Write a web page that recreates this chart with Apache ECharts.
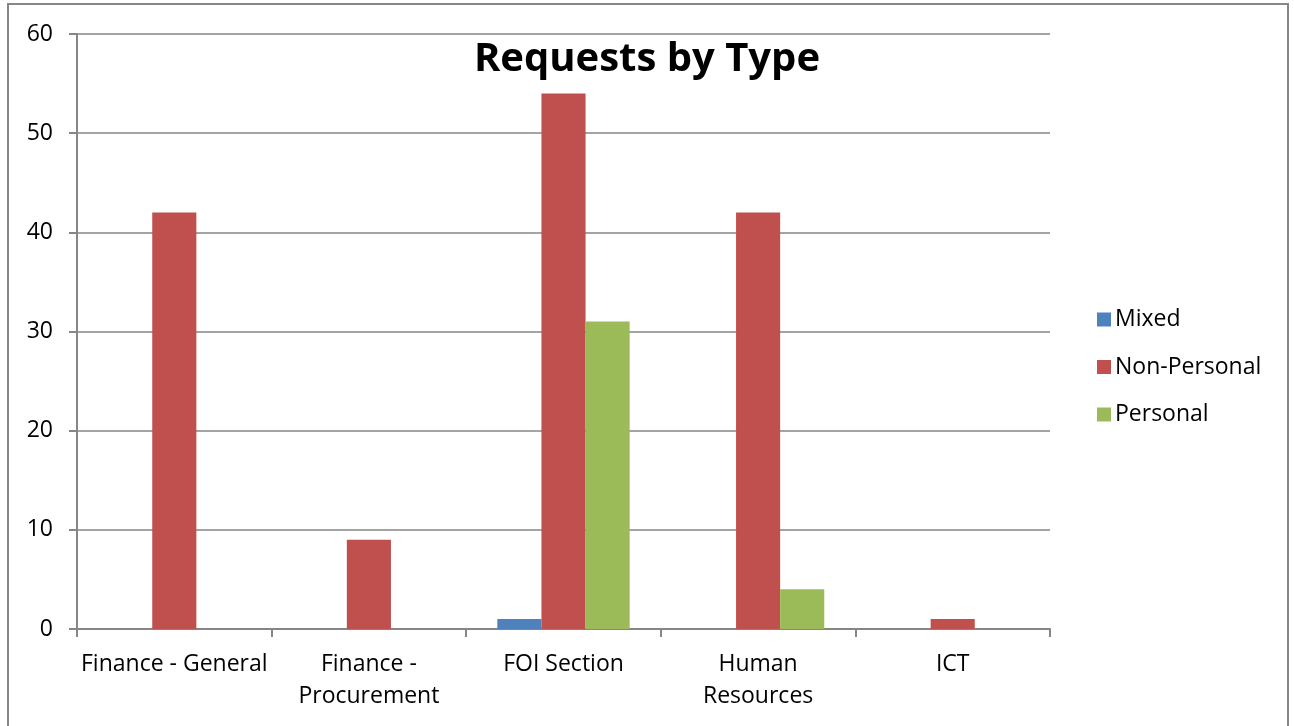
<!DOCTYPE html>
<html><head><meta charset="utf-8">
<script src="https://cdn.jsdelivr.net/npm/echarts@6/dist/echarts.min.js"></script>
<style>html,body{margin:0;padding:0;background:#fff}#c{width:1294px;height:726px}</style>
</head><body><div id="c"></div>
<script>
const categories = ['Finance - General', 'Finance -\nProcurement', 'FOI Section', 'Human\nResources', 'ICT'];
const mixed = [0, 0, 1, 0, 0];
const nonPersonal = [42, 9, 54, 42, 1];
const personal = [0, 0, 31, 4, 0];
const seriesNames = ['Mixed', 'Non-Personal', 'Personal'];
const colors = ['#4F81BD', '#C0504D', '#9BBB59'];
const font = '"Open Sans", "Noto Sans", sans-serif';

const chart = echarts.init(document.getElementById('c'));
chart.setOption({
  animation: false,
  textStyle: { fontFamily: font },
  title: { text: 'Requests by Type', left: 642, top: 35, textAlign: 'center',
    textStyle: { fontSize: 40, fontWeight: 'bold', color: '#000', fontFamily: font } },
  graphic: [{ type: 'rect', shape: { x: 8, y: 4, width: 1280, height: 740 },
    style: { fill: 'none', stroke: '#868686', lineWidth: 2 }, silent: true, z: -10 }],
  legend: { orient: 'vertical', left: 1092, top: 303, itemWidth: 14, itemHeight: 14, itemGap: 24.5,
    icon: 'rect', data: seriesNames,
    textStyle: { fontSize: 23, color: '#000', fontFamily: font, padding: [0, 0, 0, -1] } },
  grid: { left: 77, right: 244, top: 34, bottom: 97, containLabel: false },
  xAxis: { type: 'category', data: categories,
    axisLine: { lineStyle: { color: '#868686', width: 2 } },
    axisTick: { show: true, length: 8, lineStyle: { color: '#868686', width: 2 } },
    axisLabel: { fontSize: 23, color: '#000', margin: 19, lineHeight: 32, interval: 0, fontFamily: font } },
  yAxis: { type: 'value', min: 0, max: 60, interval: 10,
    axisLine: { show: true, lineStyle: { color: '#868686', width: 2 } },
    axisTick: { show: true, length: 8, lineStyle: { color: '#868686', width: 2 } },
    splitLine: { lineStyle: { color: '#868686', width: 1.5 } },
    axisLabel: { fontSize: 23, color: '#000', margin: 24, fontFamily: font } },
  series: [
    { name: seriesNames[0], type: 'bar', data: mixed, itemStyle: { color: colors[0] }, barGap: '0%', barCategoryGap: '32%' },
    { name: seriesNames[1], type: 'bar', data: nonPersonal, itemStyle: { color: colors[1] }, barGap: '0%', barCategoryGap: '32%' },
    { name: seriesNames[2], type: 'bar', data: personal, itemStyle: { color: colors[2] }, barGap: '0%', barCategoryGap: '32%' }
  ]
});
</script></body></html>
